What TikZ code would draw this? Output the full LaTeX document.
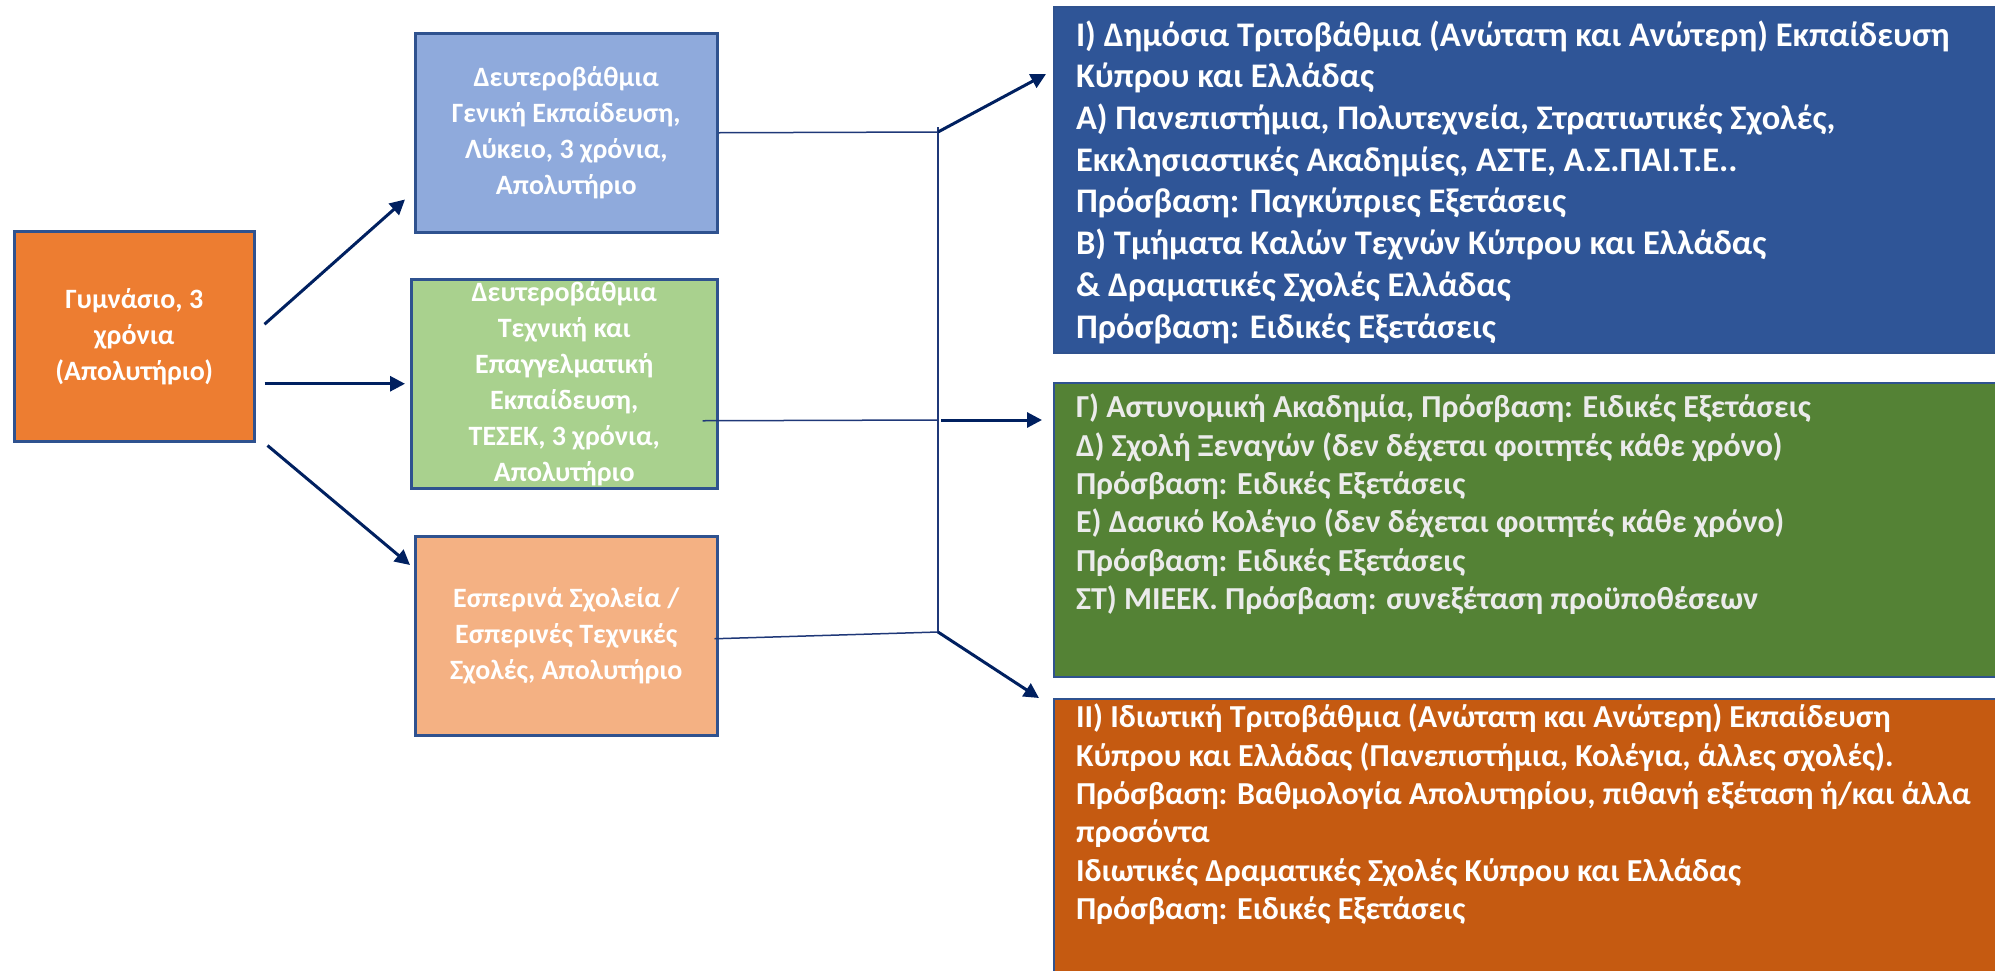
\documentclass[tikz,border=0pt]{standalone}
\usepackage{fontspec}
\setmainfont{Carlito}
\usetikzlibrary{arrows.meta}

\definecolor{navy}{RGB}{0,32,96}
\definecolor{linkblue}{RGB}{31,56,120}
\definecolor{boxline}{RGB}{47,82,143}
\definecolor{gymorange}{RGB}{237,125,49}
\definecolor{lightblue}{RGB}{143,170,220}
\definecolor{lightgreen}{RGB}{169,209,142}
\definecolor{peach}{RGB}{244,177,131}
\definecolor{darkblue}{RGB}{47,85,151}
\definecolor{darkgreen}{RGB}{84,130,53}
\definecolor{rust}{RGB}{197,90,17}

\tikzset{
    leftbox/.style  = {draw = boxline, line width = 2.5pt, anchor = north west, inner sep = 0pt,
                       align = center, text = white, font = \fontsize{28}{36}\selectfont\bfseries},
    rightbox/.style = {draw = boxline, line width = 2pt, anchor = north west,
                       inner xsep = 22pt, inner ysep = 0pt, text = white},
    arrow/.style    = {navy, line width = 3pt, -{Triangle[length = 15pt, width = 15pt]}},
    link/.style     = {linkblue, line width = 1.5pt},
}

% box height, space above first line, lines
\newcommand{\toptext}[3]{\parbox[c][#1][t]{906pt}{\raggedright\vspace*{#2}\strut #3}}

\begin{document}
\begin{tikzpicture}[x = 1pt, y = -1pt]
    \useasboundingbox (0, 0) rectangle (1995, 970);

    % left column
    \node [leftbox, fill = gymorange, minimum width = 240pt, minimum height = 210pt] (gymnasio) at (13, 230)
        {Γυμνάσιο, 3\\ χρόνια\\ (Απολυτήριο)};

    % middle column
    \node [leftbox, fill = lightblue, minimum width = 302pt, minimum height = 199pt] (lykeio) at (414, 32)
        {Δευτεροβάθμια\\ Γενική Εκπαίδευση,\\ Λύκειο, 3 χρόνια,\\ Απολυτήριο};
    \node [leftbox, fill = lightgreen, minimum width = 306pt, minimum height = 209pt] (tesek) at (410, 278)
        {Δευτεροβάθμια\\ Τεχνική και\\ Επαγγελματική\\ Εκπαίδευση,\\ ΤΕΣΕΚ, 3 χρόνια,\\ Απολυτήριο};
    \node [leftbox, fill = peach, minimum width = 302pt, minimum height = 199pt] (esperina) at (414, 535)
        {Εσπερινά Σχολεία /\\ Εσπερινές Τεχνικές\\ Σχολές, Απολυτήριο};

    % right column
    \node [rightbox, fill = darkblue, font = \fontsize{34.5}{41.7}\selectfont\bfseries] (dimosia) at (1053, 6)
        {\toptext{346pt}{10pt}{Ι) Δημόσια Τριτοβάθμια (Ανώτατη και Ανώτερη) Εκπαίδευση\\
         Κύπρου και Ελλάδας\\
         Α) Πανεπιστήμια, Πολυτεχνεία, Στρατιωτικές Σχολές,\\
         Εκκλησιαστικές Ακαδημίες, ΑΣΤΕ, Α.Σ.ΠΑΙ.Τ.Ε..\\
         Πρόσβαση: Παγκύπριες Εξετάσεις\\
         Β) Τμήματα Καλών Τεχνών Κύπρου και Ελλάδας\\
         \& Δραματικές Σχολές Ελλάδας\\
         Πρόσβαση: Ειδικές Εξετάσεις}};
    \node [rightbox, fill = darkgreen, text = black!8, font = \fontsize{32}{38.3}\selectfont\bfseries] (alles) at (1053, 382)
        {\toptext{294pt}{8pt}{Γ) Αστυνομική Ακαδημία, Πρόσβαση: Ειδικές Εξετάσεις\\
         Δ) Σχολή Ξεναγών (δεν δέχεται φοιτητές κάθε χρόνο)\\
         Πρόσβαση: Ειδικές Εξετάσεις\\
         Ε) Δασικό Κολέγιο (δεν δέχεται φοιτητές κάθε χρόνο)\\
         Πρόσβαση: Ειδικές Εξετάσεις\\
         ΣΤ) ΜΙΕΕΚ. Πρόσβαση: συνεξέταση προϋποθέσεων}};
    \node [rightbox, fill = rust, font = \fontsize{32}{38.3}\selectfont\bfseries] (idiotiki) at (1053, 698)
        {\toptext{290pt}{2pt}{ΙΙ) Ιδιωτική Τριτοβάθμια (Ανώτατη και Ανώτερη) Εκπαίδευση\\
         Κύπρου και Ελλάδας (Πανεπιστήμια, Κολέγια, άλλες σχολές).\\
         Πρόσβαση: Βαθμολογία Απολυτηρίου, πιθανή εξέταση ή/και άλλα\\
         προσόντα\\
         Ιδιωτικές Δραματικές Σχολές Κύπρου και Ελλάδας\\
         Πρόσβαση: Ειδικές Εξετάσεις}};

    % from Gymnasio
    \draw [arrow] ([shift = {(9, -12)}] gymnasio.east) -- ([shift = {(-9, -34)}] lykeio.south west);
    \draw [arrow, shorten > = 5pt] ([shift = {(9, 0)}] gymnasio.east |- tesek.west) -- (tesek.west);
    \draw [arrow] ([shift = {(12, 3)}] gymnasio.south east) -- ([shift = {(-4, 30)}] esperina.north west);

    % collector
    \coordinate (jtop) at (938, 132);
    \coordinate (jmid) at (938, 420);
    \coordinate (jbot) at (938, 632);

    \draw [link] (lykeio.east) -- (jtop);
    \draw [link] ([shift = {(-16, 37)}] tesek.east) -- (jmid);
    \draw [link] ([shift = {(-4, 3)}] esperina.east) -- (jbot);
    \draw [link] ([shift = {(0, -5)}] jtop) -- (jbot);

    \draw [arrow] (jtop) -- ([shift = {(-7, 68)}] dimosia.north west);
    \draw [arrow, shorten > = 11pt] ([shift = {(3, 0)}] jmid) -- (jmid -| alles.west);
    \draw [arrow] (jbot) -- ([shift = {(-14, 0)}] idiotiki.north west);

\end{tikzpicture}
\end{document}
